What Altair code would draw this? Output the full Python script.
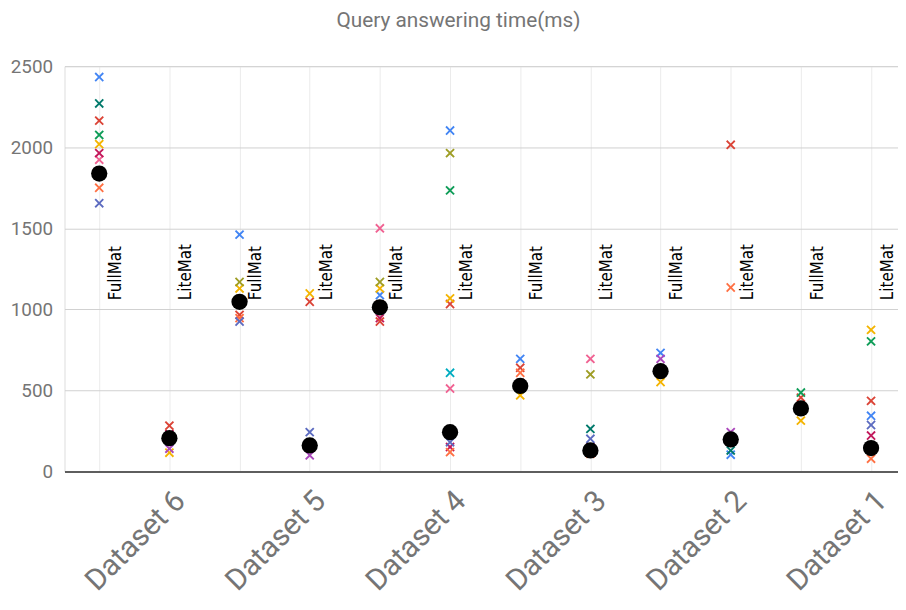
import json
import altair as alt
import pandas as pd

# ---- data ----
columns = list(range(1, 13))
methods = ["FullMat", "LiteMat"] * 6
axis_labels = ["", "Dataset 6", "", "Dataset 5", "", "Dataset 4",
               "", "Dataset 3", "", "Dataset 2", "", "Dataset 1"]

series_names = ["Q1", "Q2", "Q3", "Q4", "Q5", "Q6",
                "Q7", "Q8", "Q9", "Q10", "Q11", "Q12"]
series_colors = ["#4285f4", "#db4437", "#f4b400", "#0f9d58", "#ab47bc", "#00acc1",
                 "#ff7043", "#9e9d24", "#5c6bc0", "#f06292", "#00796b", "#c2185b"]

q1 = [2433, 200, 1461, 150, 1088, 2103, 695, 120, 732, 104, 385, 344]
q2 = [2164, 283, 966, 1047, 925, 1033, 640, 140, 625, 2015, 456, 436]
q3 = [2019, 116, 1129, 1098, 1129, 1068, 470, 115, 552, 190, 314, 874]
q4 = [2076, 210, 1040, 170, 1000, 1734, 520, 135, 610, 205, 487, 803]
q5 = [1830, 141, 1055, 100, 1020, 230, 535, 125, 695, 243, 395, 150]
q6 = [1845, 190, 1035, 155, 1010, 609, 515, 145, 615, 195, 380, 140]
q7 = [1750, 215, 946, 165, 1030, 120, 609, 110, 630, 1135, 392, 79]
q8 = [1850, 195, 1169, 175, 1169, 1964, 540, 599, 605, 200, 383, 148]
q9 = [1655, 205, 925, 243, 995, 181, 525, 202, 620, 210, 390, 287]
q10 = [1923, 220, 1060, 145, 1500, 512, 530, 695, 612, 188, 386, 138]
q11 = [2270, 185, 1050, 160, 1015, 250, 510, 263, 622, 130, 388, 152]
q12 = [1964, 230, 1045, 168, 946, 151, 545, 150, 618, 185, 393, 222]

central = [1838, 206, 1047, 161, 1013, 243, 528, 130, 619, 198, 389, 145]
note_level = 1057

# ---- tables built from the arrays ----
series_values = [q1, q2, q3, q4, q5, q6, q7, q8, q9, q10, q11, q12]
rows = []
for name, vals in zip(series_names, series_values):
    for c, v in zip(columns, vals):
        rows.append({"col": c, "series": name, "time": v})
points_df = pd.DataFrame(rows)
central_df = pd.DataFrame({"col": columns, "time": central})
notes_df = pd.DataFrame({"col": columns, "method": methods})

x_scale = alt.Scale(domain=[0.505, 12.384], nice=False, zero=False)
y_scale = alt.Scale(domain=[0, 2500], nice=False, zero=True)

x_axis = alt.Axis(
    values=columns,
    labelExpr=json.dumps(axis_labels) + "[datum.value - 1]",
    labelAngle=-45, labelAlign="right", labelBaseline="top",
    labelFont="Roboto", labelFontSize=30, labelColor="#757575",
    labelPadding=14, labelOverlap=False, labelBound=False, labelFlush=False,
    grid=True, gridColor="#ebebeb", gridWidth=1,
    ticks=False, domain=True, domainColor="#333333", domainWidth=1.5,
    title=None,
)
y_axis = alt.Axis(
    values=[0, 500, 1000, 1500, 2000, 2500], format="d",
    labelFont="Roboto", labelFontSize=19, labelColor="#757575", labelPadding=12,
    grid=True, gridColor="#d0d0d0", gridWidth=1,
    ticks=False, domain=False, title=None,
)

x_shape = ("M-1,-0.72L-0.72,-1L0,-0.28L0.72,-1L1,-0.72L0.28,0L1,0.72L0.72,1"
           "L0,0.28L-0.72,1L-1,0.72L-0.28,0Z")

points = alt.Chart(points_df).mark_point(
    shape=x_shape, filled=True, size=90, opacity=1
).encode(
    x=alt.X("col:Q", scale=x_scale, axis=x_axis),
    y=alt.Y("time:Q", scale=y_scale, axis=y_axis),
    color=alt.Color("series:N",
                    scale=alt.Scale(domain=series_names, range=series_colors),
                    legend=None),
    order=alt.Order("series:N"),
)

circles = alt.Chart(central_df).mark_circle(
    color="#000000", size=270, opacity=1
).encode(
    x=alt.X("col:Q", scale=x_scale),
    y=alt.Y("time:Q", scale=y_scale),
)

notes = alt.Chart(notes_df).mark_text(
    angle=270, align="left", baseline="alphabetic", dy=22,
    font="DejaVu Sans Condensed", fontSize=17, color="#000000"
).encode(
    x=alt.X("col:Q", scale=x_scale),
    y=alt.datum(note_level),
    text="method:N",
)

chart = alt.layer(points, circles, notes).properties(
    width=841,
    height=409,
    autosize=alt.AutoSizeParams(type="none"),
    padding={"left": 57, "top": 56, "right": 0, "bottom": 137},
    title=alt.TitleParams(
        "Query answering time(ms)", font="Roboto", fontSize=21,
        fontWeight="normal", color="#757575", anchor="middle",
        dx=-23, offset=27,
    ),
).configure_view(stroke=None).configure(background="#ffffff")

chart.save("out.html", embed_options={"renderer": "svg", "actions": False})
